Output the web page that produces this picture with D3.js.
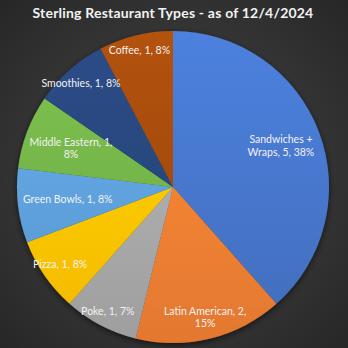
<!DOCTYPE html>
<html>
<head>
<meta charset="utf-8">
<script src="https://cdn.jsdelivr.net/npm/d3@7/dist/d3.min.js"></script>
<style>
  html, body { margin: 0; padding: 0; background: #3a3a3a; }
  svg { display: block; }
</style>
</head>
<body>
<div id="chart"></div>
<script>
// data
const categories = ["Sandwiches + Wraps", "Latin American", "Poke", "Pizza",
                    "Green Bowls", "Middle Eastern", "Smoothies", "Coffee"];
const counts = [5, 2, 1, 1, 1, 1, 1, 1];
const pctLabels = ["38%", "15%", "7%", "8%", "8%", "8%", "8%", "8%"];
const title = "Sterling Restaurant Types - as of 12/4/2024";

// office-ish palette
const colors = ["#4472c4", "#ed7d31", "#a5a5a5", "#ffc000",
                "#5b9bd5", "#70ad47", "#264478", "#9e480e"];
// where excel put each label (fraction of radius)
const labelRadii = [0.74, 0.86, 0.90, 0.88, 0.68, 0.70, 0.89, 0.90];

const width = 348, height = 348;
const cx = 173, cy = 187, radius = 156;
const wrapWidth = 91;

const data = categories.map((c, i) => ({ name: c, value: counts[i], pct: pctLabels[i], i: i }));

const svg = d3.select("#chart").append("svg")
    .attr("width", width)
    .attr("height", height);

const defs = svg.append("defs");

// background vignette
const bg = defs.append("radialGradient")
    .attr("id", "bg")
    .attr("cx", "50%").attr("cy", "50%").attr("r", "72%");
bg.append("stop").attr("offset", "0%").attr("stop-color", "#484848");
bg.append("stop").attr("offset", "100%").attr("stop-color", "#262626");

svg.append("rect")
    .attr("width", width)
    .attr("height", height)
    .attr("fill", "url(#bg)");

// gradient for each slice, lighter at top (coords are in the pie group)
colors.forEach((c, i) => {
    const grad = defs.append("linearGradient")
        .attr("id", "g" + i)
        .attr("gradientUnits", "userSpaceOnUse")
        .attr("x1", 0).attr("y1", -radius)
        .attr("x2", 0).attr("y2", radius);
    grad.append("stop").attr("offset", "0%").attr("stop-color", d3.color(c).brighter(0.35));
    grad.append("stop").attr("offset", "100%").attr("stop-color", d3.color(c).darker(0.12));
});

const shadow = defs.append("filter")
    .attr("id", "shadow")
    .attr("x", "-20%").attr("y", "-20%")
    .attr("width", "140%").attr("height", "140%");
shadow.append("feDropShadow")
    .attr("dx", 0).attr("dy", 2)
    .attr("stdDeviation", 3)
    .attr("flood-color", "#000")
    .attr("flood-opacity", 0.6);

const pie = d3.pie()
    .sort(null)
    .value(d => d.value);

const arc = d3.arc()
    .innerRadius(0)
    .outerRadius(radius);

const g = svg.append("g")
    .attr("transform", `translate(${cx},${cy})`);

g.append("g")
    .attr("filter", "url(#shadow)")
    .selectAll("path")
    .data(pie(data))
    .enter().append("path")
    .attr("d", arc)
    .attr("fill", d => `url(#g${d.data.i})`);

// title
svg.append("text")
    .attr("x", cx)
    .attr("y", 18)
    .attr("text-anchor", "middle")
    .attr("font-family", "Lato, sans-serif")
    .attr("font-weight", "bold")
    .attr("font-size", "14px")
    .attr("letter-spacing", "0.2px")
    .attr("fill", "#f2f2f2")
    .text(title);

// data labels, wrapped the way excel does
const lineH = 12.5;
const labels = g.selectAll(".lbl")
    .data(pie(data))
    .enter().append("text")
    .attr("class", "lbl")
    .attr("text-anchor", "middle")
    .attr("font-family", "Lato, sans-serif")
    .attr("font-size", "10.5px")
    .attr("fill", "#f2f2f2");

labels.each(function(d) {
    const t = d3.select(this);
    const words = `${d.data.name}, ${d.data.value}, ${d.data.pct}`.split(" ");
    const lines = [];
    let cur = [];
    const probe = t.append("tspan");
    words.forEach(w => {
        probe.text(cur.concat(w).join(" "));
        if (probe.node().getComputedTextLength() > wrapWidth && cur.length) {
            lines.push(cur.join(" "));
            cur = [w];
        } else {
            cur.push(w);
        }
    });
    lines.push(cur.join(" "));
    probe.remove();

    const a = (d.startAngle + d.endAngle) / 2;
    const r = radius * labelRadii[d.data.i];
    const x = Math.sin(a) * r;
    const y = -Math.cos(a) * r;
    const y0 = y - (lines.length - 1) * lineH / 2 + 3.5;
    lines.forEach((ln, k) => {
        t.append("tspan")
            .attr("x", x)
            .attr("y", y0 + k * lineH)
            .text(ln);
    });
});
</script>
</body>
</html>
